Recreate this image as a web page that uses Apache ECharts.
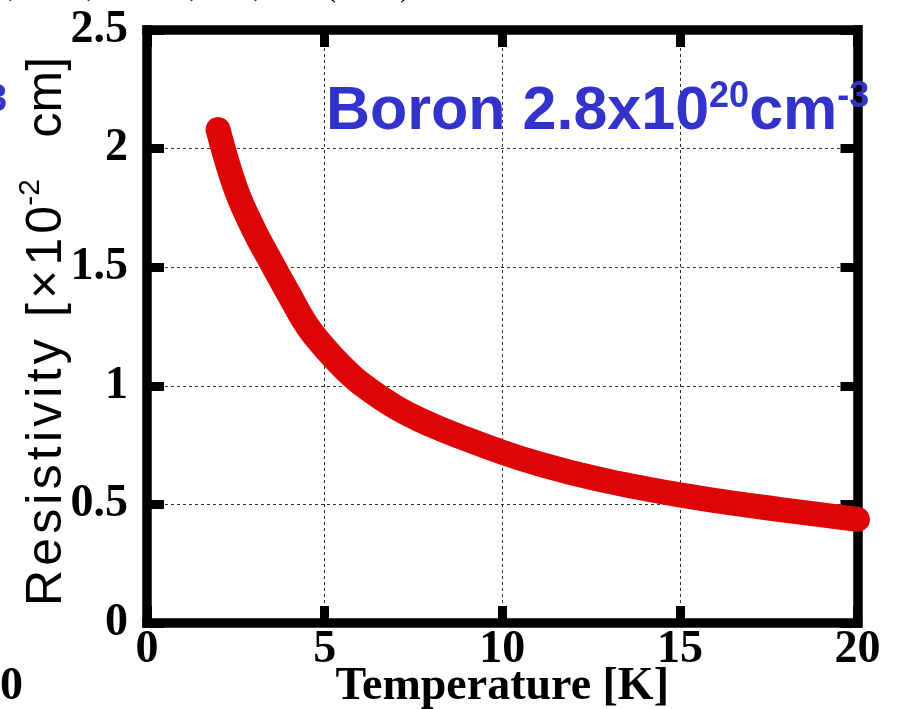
<!DOCTYPE html>
<html>
<head>
<meta charset="utf-8">
<script src="https://cdn.jsdelivr.net/npm/echarts@6/dist/echarts.min.js"></script>
<style>
html,body{margin:0;padding:0;background:#fff;}
#chart{width:914px;height:709px;}
</style>
</head>
<body>
<div id="chart"></div>
<script>
// Data
const temperatureK = [2, 2.5, 3, 3.5, 4, 4.5, 5, 5.5, 6, 7, 8, 9, 10, 11, 12, 13, 14, 15, 16, 17, 18, 19, 20];
const resistivity = [2.08, 1.83, 1.66, 1.52, 1.385, 1.255, 1.16, 1.08, 1.012, 0.91, 0.835, 0.775, 0.72, 0.672, 0.632, 0.597, 0.567, 0.54, 0.516, 0.495, 0.475, 0.456, 0.437];
const xTicks = [0, 5, 10, 15, 20];
const yTicks = [0, 0.5, 1, 1.5, 2, 2.5];
const titleText = ['Boron 2.8x10', '20', 'cm', '-3'];
const yNameParts = ['Resistivity [\u00d710', '-2', '   cm]'];
const xName = 'Temperature [K]';

const spaced = s => s.split('').join('\u200A');

const seriesData = temperatureK.map((t, i) => [t, resistivity[i]]);
const serif = "'Liberation Serif','Times New Roman',serif";
const sans = "'Liberation Sans',Arial,sans-serif";

const frameLine = { show: true, onZero: false, lineStyle: { color: '#000', width: 9.5, cap: 'square' } };
const frameTick = { show: true, inside: true, length: 17, lineStyle: { color: '#000', width: 9 } };
const gridSplit = { show: true, lineStyle: { color: '#333', width: 1, type: [3, 3] } };

const chart = echarts.init(document.getElementById('chart'), null, { renderer: 'canvas' });
chart.setOption({
  backgroundColor: '#fff',
  animation: false,
  grid: { left: 147, top: 30, right: 56.5, bottom: 86, containLabel: false, outerBoundsMode: 'none' },
  title: {
    left: 321, top: 74,
    text: '{a|' + titleText[0] + '}{s|' + titleText[1] + '}{a|' + titleText[2] + '}{s|' + titleText[3] + '}',
    textStyle: {
      rich: {
        a: { fontFamily: sans, fontWeight: 'bold', fontSize: 61, color: '#3333cc', lineHeight: 64, verticalAlign: 'bottom' },
        s: { fontFamily: sans, fontWeight: 'bold', fontSize: 36, color: '#3333cc', lineHeight: 64, verticalAlign: 'top' }
      }
    },
    z: 10
  },
  xAxis: [
    {
      type: 'value', min: 0, max: 20, interval: 5, position: 'bottom',
      axisLine: frameLine, axisTick: frameTick, splitLine: gridSplit,
      axisLabel: { show: true, margin: 4, color: '#000', fontFamily: serif, fontWeight: 'bold', fontSize: 46,
        customValues: xTicks, formatter: v => String(v) },
      name: xName, nameLocation: 'middle', nameGap: 41, nameMoveOverlap: false,
      nameTextStyle: { color: '#000', fontFamily: serif, fontWeight: 'bold', fontSize: 46 }
    },
    {
      type: 'value', min: 0, max: 20, interval: 5, position: 'top',
      axisLine: frameLine, axisTick: frameTick, splitLine: { show: false }, axisLabel: { show: false }
    }
  ],
  yAxis: [
    {
      type: 'value', min: 0, max: 2.5, interval: 0.5, position: 'left',
      axisLine: frameLine, axisTick: frameTick, splitLine: gridSplit,
      axisLabel: { show: true, margin: 19, color: '#000', fontFamily: serif, fontWeight: 'bold', fontSize: 46,
        customValues: yTicks, formatter: v => String(v), padding: [0, 0, 10, 0] },
      name: '{n|' + spaced(yNameParts[0]) + '}{s|' + yNameParts[1] + '}{n|' + yNameParts[2] + '}',
      nameLocation: 'middle', nameRotate: 90, nameGap: 75, nameMoveOverlap: false,
      nameTextStyle: {
        padding: [0, 10, 0, 0],
        rich: {
          n: { fontFamily: sans, fontSize: 50, color: '#000', lineHeight: 56, verticalAlign: 'bottom' },
          s: { fontFamily: sans, fontSize: 30, color: '#000', lineHeight: 56, verticalAlign: 'top' }
        }
      }
    },
    {
      type: 'value', min: 0, max: 2.5, interval: 0.5, position: 'right',
      axisLine: frameLine, axisTick: frameTick, splitLine: { show: false }, axisLabel: { show: false }
    }
  ],
  graphic: [
    { type: 'text', left: -6, top: -28, z: 5,
      style: { text: 'a, et al., Nature, 428, 542 (2004)', font: "32px " + serif, fill: '#000' } },
    { type: 'text', left: -14, top: 82, z: 5,
      style: { text: '3', font: "bold 38px " + sans, fill: '#3333cc' } },
    { type: 'text', left: 0, top: 664, z: 5,
      style: { text: '0', font: "bold 46px " + serif, fill: '#000' } }
  ],
  series: [
    {
      type: 'line', xAxisIndex: 0, yAxisIndex: 0, data: seriesData,
      smooth: 0.4, showSymbol: false, clip: false, z: 5,
      lineStyle: { color: '#dd0606', width: 25, cap: 'round', join: 'round' }
    }
  ]
});
</script>
</body>
</html>
